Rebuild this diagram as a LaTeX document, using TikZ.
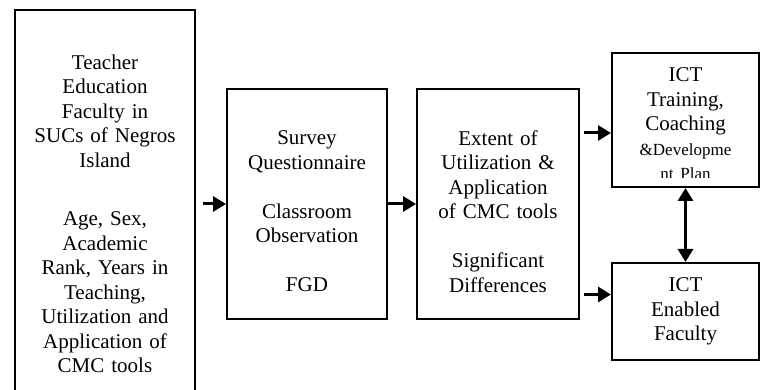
\documentclass[tikz,border=0pt]{standalone}
\usepackage{fontspec}
\setmainfont{Liberation Serif}
\usetikzlibrary{arrows.meta}
\newcommand{\smallfont}{\fontsize{17}{24.5}\selectfont}

\begin{document}
\begin{tikzpicture}[x=1pt, y=-1pt,
  box/.style={draw=black, line width=2pt, inner sep=0pt},
  txt/.style={align=center, font=\fontsize{21}{24.5}\selectfont, inner sep=0pt},
  arr/.style={line width=3pt, -{Triangle[length=13pt, width=15pt]}},
  dblarr/.style={line width=3pt, {Triangle[length=13pt, width=15pt]}-{Triangle[length=13pt, width=15pt]}}]
\useasboundingbox (0,0) rectangle (764,390);
\clip (0,0) rectangle (764,390);

% Boxes left to right
\node[box, minimum width=180pt, minimum height=410pt] (fac) at (105,215) {};
\node[box, minimum width=160pt, minimum height=230pt] (survey) at (307,204) {};
\node[box, minimum width=162pt, minimum height=230pt] (extent) at (498,204) {};
\node[box, minimum width=147pt, minimum height=134pt] (train) at (685.5,120) {};
\node[box, minimum width=147pt, minimum height=97pt] (enab) at (685.5,311.5) {};

% Texts inside the boxes
\node[txt, text width=175pt] (factxt) at (105,214) {Teacher\\Education\\Faculty in\\SUCs of Negros\\Island\\[34pt]Age, Sex,\\Academic\\Rank, Years in\\Teaching,\\Utilization and\\Application of\\CMC tools};
\node[txt, text width=155pt] (surveytxt) at (307,211.5) {Survey\\Questionnaire\\[24.5pt]Classroom\\Observation\\[24.5pt]FGD};
\node[txt, text width=155pt] (extenttxt) at (498,211.5) {Extent of\\Utilization \&\\Application\\of CMC tools\\[24.5pt]Significant\\Differences};
\begin{scope}
\clip (612,53) rectangle (759,178);
\node[txt, text width=140pt] (traintxt) at (685.5,124) {ICT\\Training,\\Coaching\\{\smallfont\&Developme}\\{\smallfont nt Plan}};
\end{scope}
\node[txt, text width=140pt] (enabtxt) at (685.5,311.5) {ICT\\Enabled\\Faculty};

% Arrows
\coordinate (intrain) at ([yshift=-13pt]train.west);
\coordinate (inenab) at ([yshift=17pt]enab.west);
\draw[arr, shorten <=7pt] (fac.east |- survey.west) -- (survey.west);
\draw[arr] (survey.east) -- (extent.west);
\draw[arr, shorten <=4pt] (extent.east |- intrain) -- (intrain);
\draw[arr, shorten <=4pt] (extent.east |- inenab) -- (inenab);
\draw[dblarr] (train.south) -- (enab.north);
\end{tikzpicture}
\end{document}
